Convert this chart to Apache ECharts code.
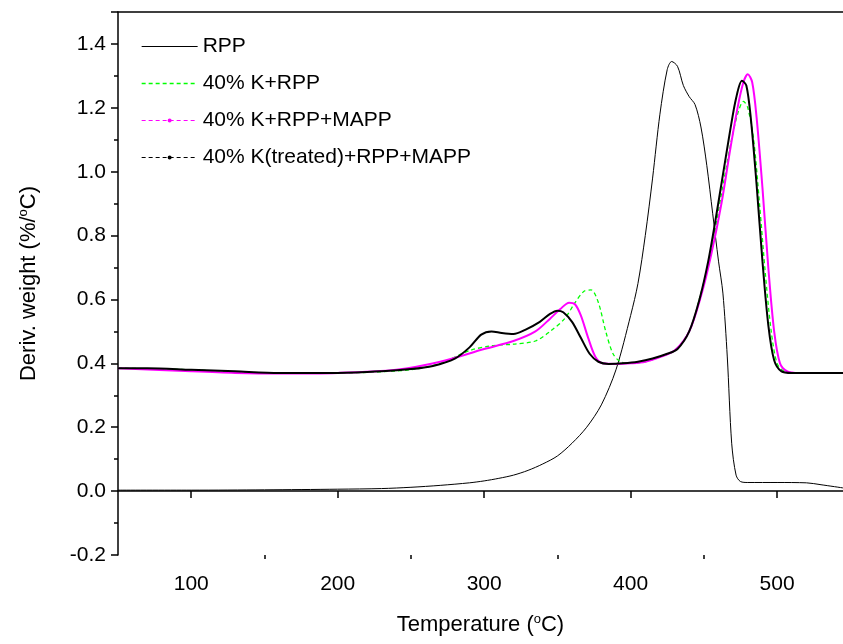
<!DOCTYPE html>
<html><head><meta charset="utf-8">
<script src="https://cdn.jsdelivr.net/npm/echarts@6/dist/echarts.min.js"></script>
<style>html,body{margin:0;padding:0;background:#fff}#c{width:843px;height:644px}</style>
</head><body><div id="c"></div>
<script>
const seriesNames = ['RPP', '40% K+RPP', '40% K+RPP+MAPP', '40% K(treated)+RPP+MAPP'];
const xTickLabels = [100, 200, 300, 400, 500];
const xMinorTicks = [150, 250, 350, 450];

const rpp = [[50,0.003],[100,0.003],[150,0.004],[200,0.006],[230,0.008],[250,0.012],[270,0.018],[290,0.026],[300,0.032],[310,0.04],[320,0.05],[330,0.065],[340,0.085],[350,0.11],[360,0.15],[370,0.2],[380,0.27],[390,0.38],[400,0.55],[405,0.65],[410,0.8],[415,0.98],[420,1.18],[425,1.32],[428,1.345],[432,1.33],[436,1.27],[440,1.235],[444,1.21],[448,1.14],[452,1.02],[456,0.87],[460,0.72],[463,0.62],[466,0.42],[469,0.15],[472,0.05],[475,0.03],[480,0.027],[500,0.027],[520,0.026],[530,0.02],[545,0.01]];

const kRpp = [[50,0.385],[100,0.38],[150,0.37],[200,0.37],[250,0.38],[270,0.4],[290,0.44],[305,0.455],[320,0.46],[335,0.47],[345,0.5],[355,0.54],[362,0.59],[368,0.625],[373,0.63],[378,0.59],[383,0.5],[388,0.43],[393,0.405],[400,0.4],[410,0.405],[420,0.42],[430,0.44],[440,0.5],[448,0.62],[455,0.75],[462,0.93],[468,1.08],[473,1.18],[477,1.22],[480,1.2],[484,1.1],[488,0.9],[492,0.68],[496,0.5],[500,0.4],[505,0.375],[515,0.37],[545,0.37]];

const kRppMapp = [[50,0.385],[100,0.375],[130,0.37],[160,0.368],[200,0.37],[240,0.38],[270,0.405],[300,0.445],[320,0.47],[335,0.5],[345,0.54],[352,0.57],[358,0.59],[362,0.585],[366,0.55],[371,0.48],[376,0.42],[381,0.4],[390,0.398],[400,0.4],[410,0.405],[420,0.42],[430,0.44],[440,0.5],[448,0.61],[455,0.74],[462,0.9],[468,1.07],[473,1.2],[477,1.28],[480,1.305],[483,1.28],[486,1.17],[490,0.95],[494,0.7],[498,0.5],[502,0.4],[507,0.375],[515,0.37],[545,0.37]];

const kTreated = [[50,0.385],[70,0.385],[100,0.38],[130,0.375],[160,0.37],[200,0.37],[230,0.375],[250,0.382],[265,0.392],[280,0.415],[290,0.45],[298,0.49],[305,0.5],[312,0.495],[320,0.492],[328,0.505],[338,0.53],[345,0.555],[350,0.565],[354,0.56],[360,0.53],[366,0.48],[372,0.43],[378,0.405],[385,0.398],[395,0.4],[405,0.405],[415,0.415],[425,0.43],[432,0.445],[440,0.5],[447,0.6],[453,0.72],[458,0.85],[463,0.99],[468,1.13],[472,1.23],[476,1.285],[479,1.27],[482,1.17],[486,0.96],[490,0.72],[494,0.52],[498,0.41],[503,0.375],[510,0.37],[545,0.37]];

const FONT = 'Liberation Sans, Arial, sans-serif';
const GREEN = '#00ff00';
const chart = echarts.init(document.getElementById('c'));
const axisLineStyle = {color:'#000', width:1.5};
const supStyle = {fontFamily:FONT, fontSize:13, verticalAlign:'top', padding:[0,0,11,0], color:'#000'};
chart.setOption({
  animation:false,
  backgroundColor:'#fff',
  grid:{left:118, right:0, top:12, bottom:89},
  legend:{
    orient:'vertical', left:136, top:31, itemWidth:56, itemHeight:5, itemGap:16,
    textStyle:{fontFamily:FONT, fontSize:21, color:'#000'},
    data:[
      {name:seriesNames[0], itemStyle:{opacity:0}, lineStyle:{width:1}},
      {name:seriesNames[1], itemStyle:{opacity:0}, lineStyle:{width:1.3, type:[4,3], color:GREEN}},
      {name:seriesNames[2], lineStyle:{type:[4,3], width:1}},
      {name:seriesNames[3], lineStyle:{type:[4,3], width:1}}
    ]
  },
  xAxis:[{
    type:'value', min:50, max:545, position:'bottom',
    name:'Temperature ({sup|o}C)', nameLocation:'middle', nameGap:58,
    nameTextStyle:{fontFamily:FONT, fontSize:22, color:'#000', rich:{sup:supStyle}},
    axisLine:{show:true, lineStyle:axisLineStyle},
    axisTick:{show:true, inside:false, length:7, lineStyle:axisLineStyle, customValues:xTickLabels},
    axisLabel:{fontFamily:FONT, fontSize:21, color:'#000', margin:19, customValues:xTickLabels},
    splitLine:{show:false}
  },{
    type:'value', min:50, max:545, position:'bottom',
    axisLine:{show:false},
    axisTick:{show:true, length:4, lineStyle:axisLineStyle, customValues:xMinorTicks},
    axisLabel:{show:false}, splitLine:{show:false}
  },{
    type:'value', min:50, max:545, position:'top',
    axisLine:{show:true, lineStyle:axisLineStyle},
    axisTick:{show:false}, axisLabel:{show:false}, splitLine:{show:false}
  }],
  yAxis:{
    type:'value', min:-0.2, max:1.5, interval:0.2,
    name:'Deriv. weight (%/{sup|o}C)', nameLocation:'middle', nameGap:77, nameRotate:90,
    nameTextStyle:{fontFamily:FONT, fontSize:22, color:'#000', rich:{sup:supStyle}},
    axisLine:{show:true, lineStyle:axisLineStyle},
    axisTick:{show:true, inside:false, length:7, lineStyle:axisLineStyle},
    minorTick:{show:true, splitNumber:2, length:4, lineStyle:axisLineStyle},
    axisLabel:{fontFamily:FONT, fontSize:21, color:'#000', margin:12, showMaxLabel:false,
      formatter:v=>v.toFixed(1)},
    splitLine:{show:false}
  },
  series:[
    {name:seriesNames[0], type:'line', data:rpp, smooth:0.3, symbol:'none', lineStyle:{color:'#000', width:1}, itemStyle:{color:'#000'}},
    {name:seriesNames[1], type:'line', data:kRpp, smooth:0.3, symbol:'none', lineStyle:{color:GREEN, width:1.3, type:[4,3]}, itemStyle:{color:GREEN}},
    {name:seriesNames[2], type:'line', data:kRppMapp, smooth:0.3, symbol:'circle', symbolSize:4, showSymbol:false, lineStyle:{color:'#ff00ff', width:2}, itemStyle:{color:'#ff00ff'}},
    {name:seriesNames[3], type:'line', data:kTreated, smooth:0.3, symbol:'circle', symbolSize:4, showSymbol:false, lineStyle:{color:'#000', width:2}, itemStyle:{color:'#000'}}
  ]
});
</script></body></html>
